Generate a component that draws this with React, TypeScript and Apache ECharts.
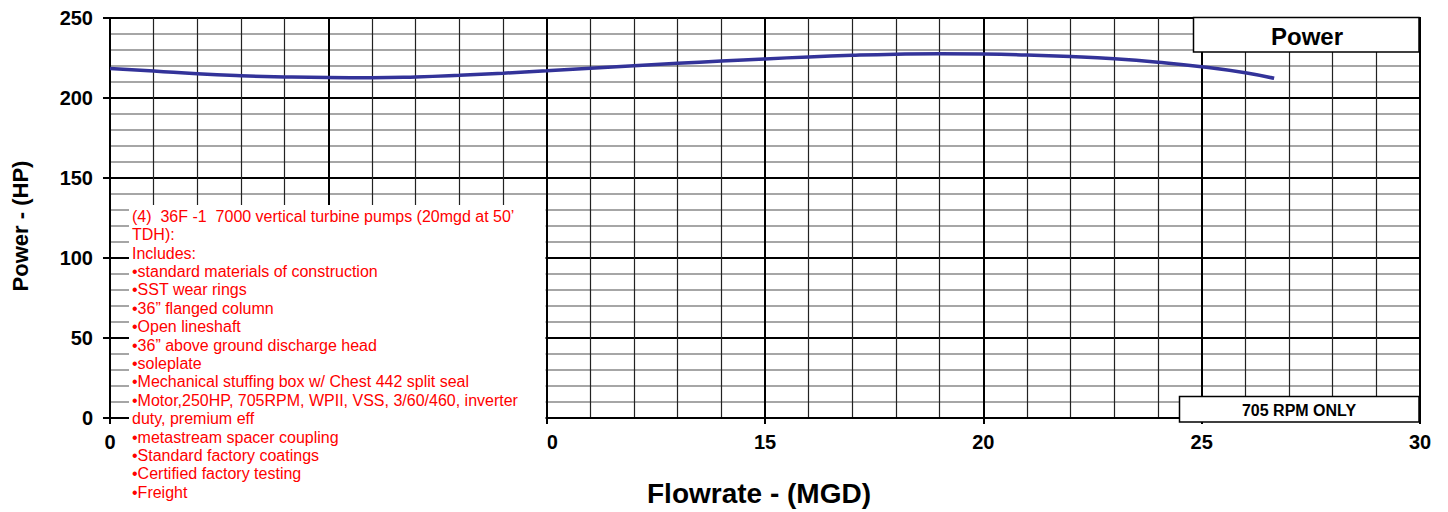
import React, { useEffect, useRef } from "react";
import * as echarts from "echarts";

const flowrate = [0, 1, 2, 3, 4, 5, 6, 7, 8, 9, 10, 11, 12, 13, 14, 15, 16, 17, 18, 19, 20, 21, 22, 23, 24, 25, 26, 26.66];
const power = [218.5, 216.9, 215.1, 213.9, 213.2, 212.8, 212.7, 213.2, 214.2, 215.5, 217.0, 218.6, 220.2, 221.7, 223.1, 224.4, 225.7, 226.7, 227.4, 227.7, 227.5, 226.9, 225.9, 224.5, 222.4, 219.6, 215.8, 212.3];

const hiddenXLabels = [5];

const noteLines = [
  "(4)  36F -1  7000 vertical turbine pumps (20mgd at 50’",
  "TDH):",
  "Includes:",
  "•standard materials of construction",
  "•SST wear rings",
  "•36” flanged column",
  "•Open lineshaft",
  "•36” above ground discharge head",
  "•soleplate",
  "•Mechanical stuffing box w/ Chest 442 split seal",
  "•Motor,250HP, 705RPM, WPII, VSS, 3/60/460, inverter",
  "duty, premium eff",
  "•metastream spacer coupling",
  "•Standard factory coatings",
  "•Certified factory testing",
  "•Freight",
];

const FONT = "'Liberation Sans', Arial, sans-serif";

export default function App() {
  const ref = useRef<HTMLDivElement>(null);
  useEffect(() => {
    document.body.style.margin = "0";
    const chart = echarts.init(ref.current!, null, { renderer: "svg" });
    chart.setOption({
      animation: false,
      backgroundColor: "#fff",
      grid: { left: 110, right: 28, top: 18, bottom: 92, show: true, borderColor: "#000", borderWidth: 2 },
      xAxis: {
        type: "value",
        min: 0,
        max: 30,
        interval: 5,
        name: "Flowrate - (MGD)",
        nameLocation: "middle",
        nameGap: 61,
        nameTextStyle: { fontFamily: FONT, fontWeight: "bold", fontSize: 28, color: "#000", padding: [0, 12, 0, 0] },
        axisLine: { show: true, lineStyle: { color: "#000", width: 2 } },
        axisTick: { show: true, length: 6, lineStyle: { color: "#000", width: 2 } },
        axisLabel: {
          fontFamily: FONT,
          fontWeight: "bold",
          fontSize: 20,
          color: "#000",
          margin: 14,
          formatter: (v: number) => (hiddenXLabels.includes(v) ? "" : String(v)),
        },
        splitLine: { show: true, lineStyle: { color: "#000", width: 2 } },
        minorTick: { show: false, splitNumber: 5 },
        minorSplitLine: { show: true, lineStyle: { color: "#222", width: 1.2 } },
      },
      yAxis: {
        type: "value",
        min: 0,
        max: 250,
        interval: 50,
        name: "Power - (HP)",
        nameLocation: "middle",
        nameGap: 79,
        nameTextStyle: { fontFamily: FONT, fontWeight: "bold", fontSize: 22, color: "#000", padding: [0, 16, 0, 0] },
        axisLine: { show: true, lineStyle: { color: "#000", width: 2 } },
        axisTick: { show: true, length: 7, lineStyle: { color: "#000", width: 2 } },
        axisLabel: { fontFamily: FONT, fontWeight: "bold", fontSize: 20, color: "#000", margin: 17 },
        splitLine: { show: true, lineStyle: { color: "#000", width: 2 } },
        minorTick: { show: false, splitNumber: 5 },
        minorSplitLine: { show: true, lineStyle: { color: "#888", width: 1.5 } },
      },
      series: [
        {
          type: "line",
          data: flowrate.map((x, i) => [x, power[i]]),
          smooth: 0.5,
          showSymbol: false,
          lineStyle: { color: "#333399", width: 3.5 },
          z: 5,
        },
      ],
      graphic: [
        {
          type: "rect",
          z: 100,
          shape: { x: 129, y: 205, width: 416.5, height: 302 },
          style: { fill: "#fff" },
        },
        {
          type: "rect",
          z: 100,
          shape: { x: 129, y: 429, width: 418.5, height: 78 },
          style: { fill: "#fff" },
        },
        {
          type: "text",
          z: 101,
          x: 132,
          y: 207,
          style: {
            text: noteLines.join("\n"),
            fill: "#ff0000",
            font: `16px ${FONT}`,
            lineHeight: 18.4,
            verticalAlign: "top",
          },
        },
        {
          type: "rect",
          z: 100,
          shape: { x: 1193.5, y: 17.5, width: 225.5, height: 34.5 },
          style: { fill: "#fff", stroke: "#000", lineWidth: 1.5 },
        },
        {
          type: "text",
          z: 101,
          x: 1307,
          y: 36,
          style: {
            text: "Power",
            fill: "#000",
            font: `bold 24px ${FONT}`,
            align: "center",
            verticalAlign: "middle",
          },
        },
        {
          type: "rect",
          z: 100,
          shape: { x: 1179.5, y: 396.5, width: 239.5, height: 25.5 },
          style: { fill: "#fff", stroke: "#000", lineWidth: 1.5 },
        },
        {
          type: "text",
          z: 101,
          x: 1299,
          y: 410,
          style: {
            text: "705 RPM ONLY",
            fill: "#000",
            font: `bold 16px ${FONT}`,
            align: "center",
            verticalAlign: "middle",
          },
        },
      ],
    });
    return () => chart.dispose();
  }, []);
  return <div ref={ref} style={{ width: 1448, height: 512 }} />;
}
